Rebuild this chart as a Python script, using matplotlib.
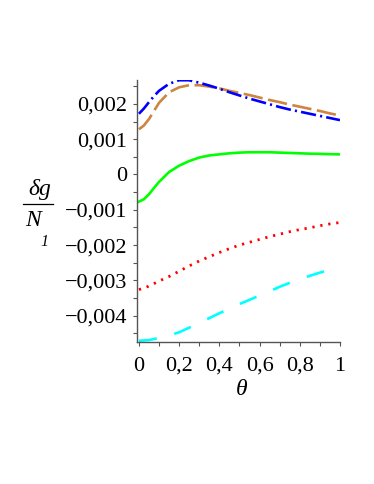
import matplotlib
matplotlib.use('Agg')
import matplotlib.pyplot as plt
from matplotlib.lines import Line2D

plt.rcParams['font.family'] = ['Liberation Serif', 'DejaVu Serif']
plt.rcParams['lines.scale_dashes'] = False

# values, in units of 0.001
theta = [0, 0.025, 0.05, 0.075, 0.1, 0.15, 0.2, 0.25, 0.3, 0.35, 0.4, 0.45, 0.5,
         0.55, 0.6, 0.65, 0.7, 0.75, 0.8, 0.85, 0.9, 0.95, 1.0]
blue = [1.72, 1.87, 2.05, 2.22, 2.37, 2.57, 2.67, 2.67, 2.60, 2.52, 2.43, 2.33, 2.24,
        2.15, 2.07, 1.99, 1.91, 1.84, 1.78, 1.72, 1.66, 1.60, 1.54]
orange = [1.28, 1.39, 1.57, 1.80, 2.03, 2.33, 2.47, 2.53, 2.53, 2.49, 2.44, 2.37, 2.31,
          2.25, 2.18, 2.11, 2.05, 1.98, 1.92, 1.86, 1.80, 1.73, 1.67]
green = [-0.77, -0.70, -0.56, -0.38, -0.21, 0.07, 0.25, 0.38, 0.48, 0.54, 0.57, 0.60, 0.62,
         0.63, 0.63, 0.63, 0.62, 0.61, 0.60, 0.59, 0.585, 0.575, 0.57]
red = [-3.26, -3.22, -3.16, -3.09, -3.02, -2.89, -2.74, -2.59, -2.45, -2.33, -2.21, -2.10, -2.00,
       -1.92, -1.84, -1.76, -1.69, -1.62, -1.56, -1.51, -1.45, -1.40, -1.36]
cyan = [-4.71, -4.70, -4.69, -4.66, -4.63, -4.56, -4.47, -4.34, -4.20, -4.07, -3.93, -3.80, -3.67,
        -3.55, -3.43, -3.31, -3.18, -3.07, -2.97, -2.87, -2.78, -2.70, -2.62]

x_ticks = [0, 0.2, 0.4, 0.6, 0.8, 1.0]
x_labels = ['0', '0,2', '0,4', '0,6', '0,8', '1']
y_ticks = [-0.004, -0.003, -0.002, -0.001, 0, 0.001, 0.002]
y_labels = ['\u22120,004', '\u22120,003', '\u22120,002', '\u22120,001', '0', '0,001', '0,002']

W, H = 374, 484
fig = plt.figure(figsize=(W / 100, H / 100), dpi=100)
ax = fig.add_axes([137.3 / W, 1 - 342 / H, (340 - 137.3) / W, (342 - 80) / H])


def scaled(vals):
    return [v * 0.001 for v in vals]


ax.plot(theta, scaled(cyan), color='#00ffff', lw=1.9, linestyle=(0, (13, 13)))
ax.plot(theta, scaled(red), color='#ff0000', lw=2.0, linestyle=(0, (1.6, 4.2)))
ax.plot(theta, scaled(green), color='#00ff00', lw=1.9)
ax.plot(theta, scaled(orange), color='#cd853f', lw=1.9, linestyle=(0, (14, 4)))
ax.plot(theta, scaled(blue), color='#0000ff', lw=1.9, linestyle=(0, (11, 3, 1.5, 3)))

ax.set_xlim(-0.008, 1.0)
ax.set_ylim(-0.004745, 0.002677)

ax.set_xticks(x_ticks)
ax.set_xticklabels(x_labels)
ax.set_xticks([0.1, 0.3, 0.5, 0.7, 0.9], minor=True)
ax.set_yticks(y_ticks)
ax.set_yticklabels(y_labels)
ax.set_yticks([-0.0045, -0.0035, -0.0025, -0.0015, -0.0005, 0.0005, 0.0015, 0.0025], minor=True)

for s in ['top', 'right']:
    ax.spines[s].set_visible(False)
for s in ['left', 'bottom']:
    ax.spines[s].set_color('#555555')
    ax.spines[s].set_linewidth(1.0)

ax.tick_params(which='both', direction='out', length=3, width=0.8, color='#555555')
ax.tick_params(axis='y', which='major', labelsize=16, pad=4)
ax.tick_params(axis='x', which='major', labelsize=16, pad=7.5)


def fx(px):
    return px / W


def fy(py):
    return 1 - py / H


fig.text(fx(39.5), fy(190), '\u03b4g', fontsize=17, style='italic', ha='center', va='center')
fig.add_artist(Line2D([fx(22.7), fx(52.7)], [fy(204.3), fy(204.3)], color='black', lw=0.9))
fig.text(fx(33.5), fy(220), 'N', fontsize=17, style='italic', ha='center', va='center')
fig.text(fx(44.5), fy(241.5), '1', fontsize=11.5, style='italic', ha='center', va='center')
fig.text(fx(241.5), fy(389.5), '\u03b8', fontsize=17, style='italic', ha='center', va='center')

fig.savefig('out.png', dpi=100)
plt.close(fig)
